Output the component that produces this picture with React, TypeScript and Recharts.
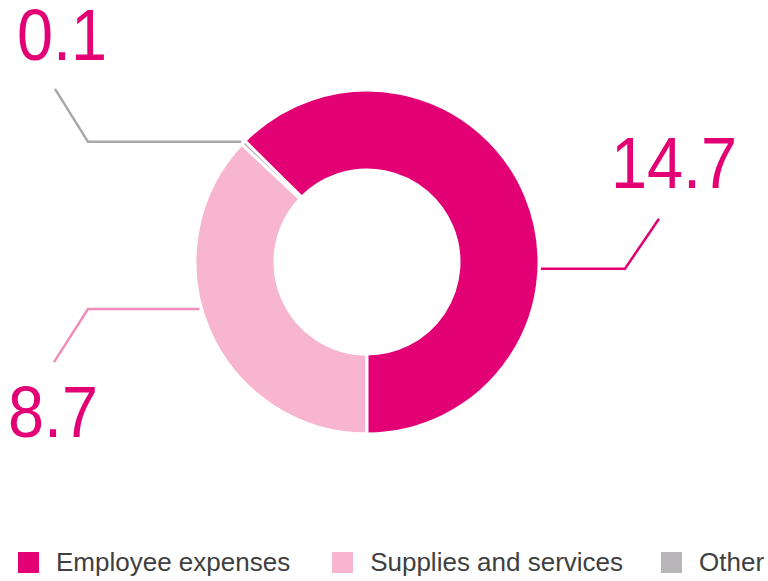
import { PieChart, Pie, Cell, Legend } from 'recharts';

// slice order runs clockwise from the bottom
const categories = ['Supplies and services', 'Other', 'Employee expenses'];
const values = [8.7, 0.1, 14.7];
const legendOrder = ['Employee expenses', 'Supplies and services', 'Other'];

const COLORS: Record<string, string> = {
  'Employee expenses': '#E20074',
  'Supplies and services': '#F7B5D0',
  Other: '#B3AFB0',
};

const LINE_COLORS: Record<string, string> = {
  'Employee expenses': '#E20074',
  'Supplies and services': '#F18DBA',
  Other: '#ABA7A8',
};

const LEGEND_COLORS: Record<string, string> = {
  'Employee expenses': '#E20074',
  'Supplies and services': '#F7B5D0',
  Other: '#BAB5B8',
};

// leader line layout for each slice, relative to the pie centre
const LABEL_LAYOUT: Record<string, { angle: number; elbowX: number; dx: number; dy: number; tx: number; ty: number }> = {
  'Employee expenses': { angle: -2.2, elbowX: 258, dx: 34, dy: -50, tx: 244, ty: -74 },
  'Supplies and services': { angle: 195.7, elbowX: -279, dx: -34, dy: 53, tx: -359, ty: 175 },
  Other: { angle: 136.3, elbowX: -279, dx: -33, dy: -53, tx: -350, ty: -202 },
};

const data = categories.map((name, i) => ({ name, value: values[i] }));

const RADIAN = Math.PI / 180;

const renderLabel = (props: any) => {
  const { cx, cy, outerRadius, index } = props;
  const name = categories[index];
  const l = LABEL_LAYOUT[name];
  const sx = cx + (outerRadius + 2) * Math.cos(l.angle * RADIAN);
  const sy = cy - (outerRadius + 2) * Math.sin(l.angle * RADIAN);
  const ex = cx + l.elbowX;
  return (
    <g key={`label-${index}`}>
      <polyline
        points={`${sx},${sy} ${ex},${sy} ${ex + l.dx},${sy + l.dy}`}
        fill="none"
        stroke={LINE_COLORS[name]}
        strokeWidth={2.5}
      />
      <text
        x={0}
        y={0}
        transform={`translate(${cx + l.tx},${cy + l.ty}) scale(0.9,1)`}
        fill="#E20074"
        fontSize={72}
        fontFamily="'Liberation Sans', Arial, sans-serif"
        textAnchor="start"
      >
        {values[index].toFixed(1)}
      </text>
    </g>
  );
};

const renderLegend = () => (
  <div
    style={{
      display: 'flex',
      alignItems: 'center',
      whiteSpace: 'nowrap',
      fontFamily: "'Liberation Sans', Arial, sans-serif",
      fontSize: 26,
      lineHeight: '30px',
      color: '#404040',
    }}
  >
    {legendOrder.map((name, i) => (
      <div key={name} style={{ display: 'flex', alignItems: 'center', flexShrink: 0, marginRight: i === 0 ? 42 : 38 }}>
        <span style={{ width: 21, height: 21, background: LEGEND_COLORS[name], marginRight: 17, display: 'inline-block', flexShrink: 0 }} />
        <span>{name}</span>
      </div>
    ))}
  </div>
);

const App = () => {
  return (
    <div style={{ position: 'absolute', left: 0, top: 0, width: 768, height: 581, background: '#fff' }}>
      <PieChart width={768} height={581} margin={{ top: 0, right: 0, bottom: 0, left: 0 }}>
        <Pie
          data={data}
          dataKey="value"
          nameKey="name"
          cx={367}
          cy={262}
          innerRadius={92}
          outerRadius={172}
          startAngle={270}
          endAngle={-90}
          stroke="#fff"
          strokeWidth={3}
          label={renderLabel}
          labelLine={false}
          isAnimationActive={false}
        >
          {data.map((d) => (
            <Cell key={d.name} fill={COLORS[d.name]} />
          ))}
        </Pie>
        <Legend content={renderLegend} wrapperStyle={{ left: 18, top: 547, width: 750, height: 30 }} />
      </PieChart>
    </div>
  );
};

export default App;
